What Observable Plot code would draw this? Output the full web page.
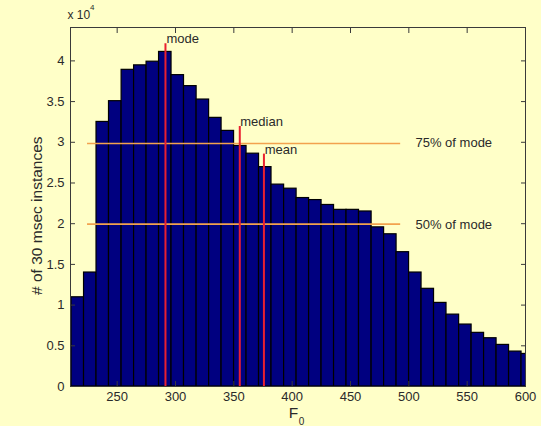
<!DOCTYPE html>
<html><head><meta charset="utf-8">
<script src="https://cdn.jsdelivr.net/npm/d3@7"></script>
<script src="https://cdn.jsdelivr.net/npm/@observablehq/plot@0.6"></script>
<style>
html,body{margin:0;padding:0;background:#ffffc8;}
#chart svg{display:block;}
</style></head><body><div id="chart"></div>
<script>
// Histogram bin edges (F0, Hz) and counts
const binEdges = [210.9, 221.6, 232.3, 243.0, 253.8, 264.5, 275.2, 285.9, 296.6, 307.3, 318.1, 328.8, 339.5, 350.2, 360.9, 371.6, 382.3, 393.1, 403.8, 414.5, 425.2, 435.9, 446.6, 457.3, 468.1, 478.8, 489.5, 500.2, 510.9, 521.6, 532.3, 543.1, 553.8, 564.5, 575.2, 585.9, 596.6, 607.3];
const counts = [10960, 14000, 32500, 35050, 38900, 39450, 39900, 41100, 38250, 36900, 35250, 33000, 31400, 29550, 28600, 26950, 24800, 24300, 23150, 22900, 22300, 21700, 21700, 21500, 19550, 18700, 16500, 14000, 12000, 10270, 8830, 7610, 6590, 5930, 5110, 4290, 4000];

// Statistic markers
const statNames = ["mode", "median", "mean"];
const statX = [291.4, 355.1, 375.8];
const statTop = [42100, 31950, 28550];
const statLabelX = [292.3, 355.5, 376.5];
const statLabelY = [42700, 32550, 29100];

// Fractions of mode
const levelNames = ["75% of mode", "50% of mode"];
const levelY = [29850, 19950];
const levelX1 = [224.6, 224.6];
const levelX2 = [493.0, 493.0];
const levelLabelX = [505.7, 505.7];
const levelLabelY = [29900, 19800];

const xTicks = [250, 300, 350, 400, 450, 500, 550, 600];
const yTicks = [0, 5000, 10000, 15000, 20000, 25000, 30000, 35000, 40000];

const yLabel = "# of 30 msec instances";
const xLabel = "F";
const xLabelSub = "0";
const yExp = "x 10";
const yExpSup = "4";

const bins = counts.map((c, i) => ({x1: binEdges[i], x2: binEdges[i + 1], count: c}));
const stats = statNames.map((n, i) => ({name: n, x: statX[i], top: statTop[i], lx: statLabelX[i], ly: statLabelY[i]}));
const levels = levelNames.map((n, i) => ({name: n, y: levelY[i], x1: levelX1[i], x2: levelX2[i], lx: levelLabelX[i], ly: levelLabelY[i]}));

const font = "'Liberation Sans', Arial, Helvetica, sans-serif";
const txt = "#2a2a2a";

const chart = Plot.plot({
  width: 541,
  height: 426,
  marginLeft: 70,
  marginRight: 16,
  marginTop: 27,
  marginBottom: 40,
  style: {background: "#ffffc8", fontFamily: font, fontSize: "13px", color: txt},
  x: {domain: [210, 600]},
  y: {domain: [0, 44100]},
  marks: [
    Plot.rectY(bins, {x1: "x1", x2: "x2", y: "count", fill: "#000080", stroke: "#000", strokeWidth: 1.2, clip: true}),
    Plot.ruleY(levels, {y: "y", x1: "x1", x2: "x2", stroke: "#f2a24e", strokeWidth: 1.6}),
    Plot.ruleX(stats, {x: "x", y1: 0, y2: "top", stroke: "#ea2030", strokeWidth: 2}),
    Plot.text(stats, {x: "lx", y: "ly", text: "name", textAnchor: "start", fontSize: 13, fill: txt}),
    Plot.text(levels, {x: "lx", y: "ly", text: "name", textAnchor: "start", fontSize: 13, fill: txt}),
    Plot.frame({stroke: "#3a3a3a", strokeWidth: 1}),
    // bottom axis: labels and inward ticks
    Plot.axisX(xTicks, {anchor: "bottom", tickSize: 0, tickPadding: 5, fontSize: 13, fill: txt, label: null}),
    Plot.axisX(xTicks, {anchor: "bottom", tickSize: -5, tickFormat: () => "", label: null, stroke: "#3a3a3a"}),
    Plot.axisX(xTicks, {anchor: "top", tickSize: -5, tickFormat: () => "", label: null, stroke: "#3a3a3a"}),
    // left axis
    Plot.axisY(yTicks, {anchor: "left", tickSize: 0, tickPadding: 6, tickFormat: d => String(d / 1e4), fontSize: 13, fill: txt, label: null}),
    Plot.axisY(yTicks, {anchor: "left", tickSize: -5, tickFormat: () => "", label: null, stroke: "#3a3a3a"}),
    Plot.axisY(yTicks, {anchor: "right", tickSize: -5, tickFormat: () => "", label: null, stroke: "#3a3a3a"}),
    // axis labels
    Plot.text([yLabel], {frameAnchor: "left", y: [20980], text: d => d, rotate: -90, dx: -33, textAnchor: "middle", lineAnchor: "middle", fontSize: 15.5, fill: txt}),
    Plot.text([xLabel], {frameAnchor: "bottom", text: d => d, dx: -4.5, dy: 27, textAnchor: "middle", lineAnchor: "middle", fontSize: 15.5, fill: txt}),
    Plot.text([xLabelSub], {frameAnchor: "bottom", text: d => d, dx: 3.5, dy: 35, textAnchor: "middle", lineAnchor: "middle", fontSize: 10, fill: txt}),
    Plot.text([yExp], {frameAnchor: "top-left", text: d => d, textAnchor: "start", lineAnchor: "middle", dx: -3, dy: -12, fontSize: 12, fill: txt}),
    Plot.text([yExpSup], {frameAnchor: "top-left", text: d => d, textAnchor: "start", lineAnchor: "middle", dx: 19.5, dy: -20, fontSize: 8, fill: txt})
  ]
});
document.getElementById("chart").appendChild(chart);
</script>
</body></html>
